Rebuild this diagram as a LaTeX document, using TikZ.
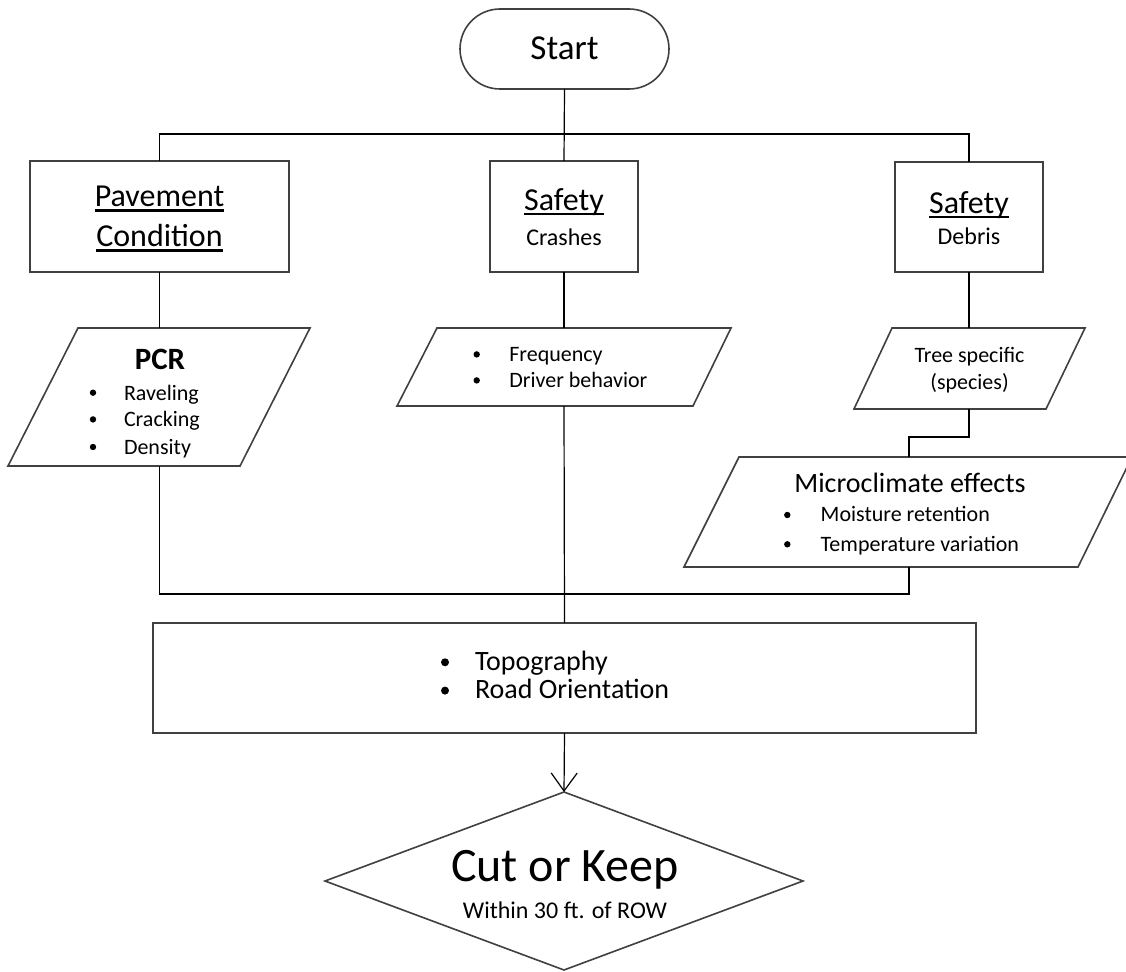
\documentclass[tikz,border=0pt]{standalone}
\usepackage{fontspec}
\setmainfont{Carlito}
\usetikzlibrary{shapes.geometric,arrows.meta}
\definecolor{boxgray}{RGB}{64,64,64}
\newsavebox\ulbox
\newcommand\myul[1]{\sbox\ulbox{#1}\usebox\ulbox\llap{\rule[-0.15em]{\wd\ulbox}{0.065em}}}
\newcommand\fs[1]{\fontsize{#1}{#1}\selectfont}
\begin{document}
\begin{tikzpicture}[x=1pt,y=-1pt,
  shapebox/.style={draw=boxgray, line width=1.6pt, fill=white, inner sep=0pt, outer sep=0pt},
  rectbox/.style={shapebox, rectangle},
  para/.style={draw=boxgray, line width=1.6pt, fill=white, line join=miter},
  txt/.style={inner sep=0pt, outer sep=0pt, text=black},
  conn/.style={draw=black, line width=1.2pt},
  bul/.style={fill=black}]
\useasboundingbox (0,0) rectangle (1126,971);

% shapes
\node[rectbox, rounded corners=40, minimum width=209, minimum height=80] (start) at (564.5,49) {};
\node[rectbox, minimum width=259, minimum height=111] (pave) at (159.5,216.5) {};
\node[rectbox, minimum width=148, minimum height=111] (crash) at (564,216.5) {};
\node[rectbox, minimum width=148, minimum height=110] (debris) at (969,217) {};
\path[para] (78,328) -- (310,328) -- (240,466) -- (8,466) -- cycle;
\coordinate (pcrN) at (159.5,328); \coordinate (pcrS) at (159.5,466);
\path[para] (437,328) -- (731,328) -- (693,406) -- (397,406) -- cycle;
\coordinate (freqN) at (564,328); \coordinate (freqS) at (564,406);
\path[para] (892,328) -- (1085,328) -- (1046,409) -- (854,409) -- cycle;
\coordinate (treeN) at (969,328); \coordinate (treeS) at (969,409);
\path[para] (739,457) -- (1132,457) -- (1078,567) -- (684,567) -- cycle;
\coordinate (microN) at (909,457); \coordinate (microS) at (909,567);
\node[rectbox, minimum width=823, minimum height=110] (topo) at (564.5,678) {};
\node[shapebox, diamond, minimum width=478, minimum height=178] (dia) at (564,881) {};

% connectors
\coordinate (bus) at (564.5,134);
\coordinate (join) at (564,594);
\draw[conn] (start.south) -- (crash.north);
\draw[conn] (pave.north) |- (bus) -| (debris.north);
\draw[conn] (pave.south) -- (pcrN);
\draw[conn] (crash.south) -- (freqN);
\draw[conn] (debris.south) -- (treeN);
\draw[conn] (treeS) -- ++(0,28) -| (microN);
\draw[conn] (microS) |- (join) -| (pcrS);
\draw[conn] (freqS) -- (topo.north);
\draw[conn, -{Straight Barb[length=18pt,width=26pt,line width=1.2pt]}] (topo.south) -- (dia.north);

% texts
\node[txt, anchor=base, font=\fs{35}] (tstart) at (564.5,60) {Start};
\node[txt, anchor=base, font=\fs{32}] (tpave1) at (159.5,206.7) {\myul{Pavement}};
\node[txt, anchor=base, font=\fs{32}] (tpave2) at (159.5,246.7) {\myul{Condition}};
\node[txt, anchor=base, font=\fs{32}] (tsaf1) at (564,210) {\myul{Safety}};
\node[txt, anchor=base, font=\fs{24}] (tcrash) at (564,245.7) {Crashes};
\node[txt, anchor=base, font=\fs{32}] (tsaf2) at (969,213) {\myul{Safety}};
\node[txt, anchor=base, font=\fs{24}] (tdeb) at (969,244.3) {Debris};

\node[txt, anchor=base, font=\bfseries\fs{31}] (tpcr) at (160,369) {PCR};
\fill[bul] (93,392.7) circle (3.2);
\fill[bul] (93,419.4) circle (3.2);
\fill[bul] (93,447) circle (3.2);
\node[txt, anchor=base west, font=\fs{22}] (trav) at (124,400) {Raveling};
\node[txt, anchor=base west, font=\fs{22}] (tcrk) at (124,426.7) {Cracking};
\node[txt, anchor=base west, font=\fs{22}] (tden) at (124,454.3) {Density};

\fill[bul] (476.7,354.4) circle (3.2);
\fill[bul] (476.7,380.4) circle (3.2);
\node[txt, anchor=base west, font=\fs{22}] (tfreq) at (509.3,361.7) {Frequency};
\node[txt, anchor=base west, font=\fs{22}] (tdrv) at (509.3,387.7) {Driver behavior};

\node[txt, anchor=base, font=\fs{22}] (ttree1) at (969.5,362.3) {Tree specific};
\node[txt, anchor=base, font=\fs{22}] (ttree2) at (969.5,389) {(species)};

\node[txt, anchor=base, font=\fs{28}] (tmic) at (910,492.7) {Microclimate effects};
\fill[bul] (787.3,515) circle (3.2);
\fill[bul] (787.3,544.3) circle (3.2);
\node[txt, anchor=base west, font=\fs{22}] (tmoi) at (820.7,521.7) {Moisture retention};
\node[txt, anchor=base west, font=\fs{22}] (ttemp) at (820.7,551) {Temperature variation};

\fill[bul] (445,662.3) circle (4);
\fill[bul] (445,690.6) circle (4);
\node[txt, anchor=base west, font=\fs{28}] (ttopo) at (475,670) {Topography};
\node[txt, anchor=base west, font=\fs{28}] (troad) at (475,698.3) {Road Orientation};

\node[txt, anchor=base, font=\fs{48}] (tcut) at (565,881.7) {Cut or Keep};
\node[txt, anchor=base, font=\fs{24}] (twit) at (565,918.3) {Within 30 ft. of ROW};
\end{tikzpicture}
\end{document}
